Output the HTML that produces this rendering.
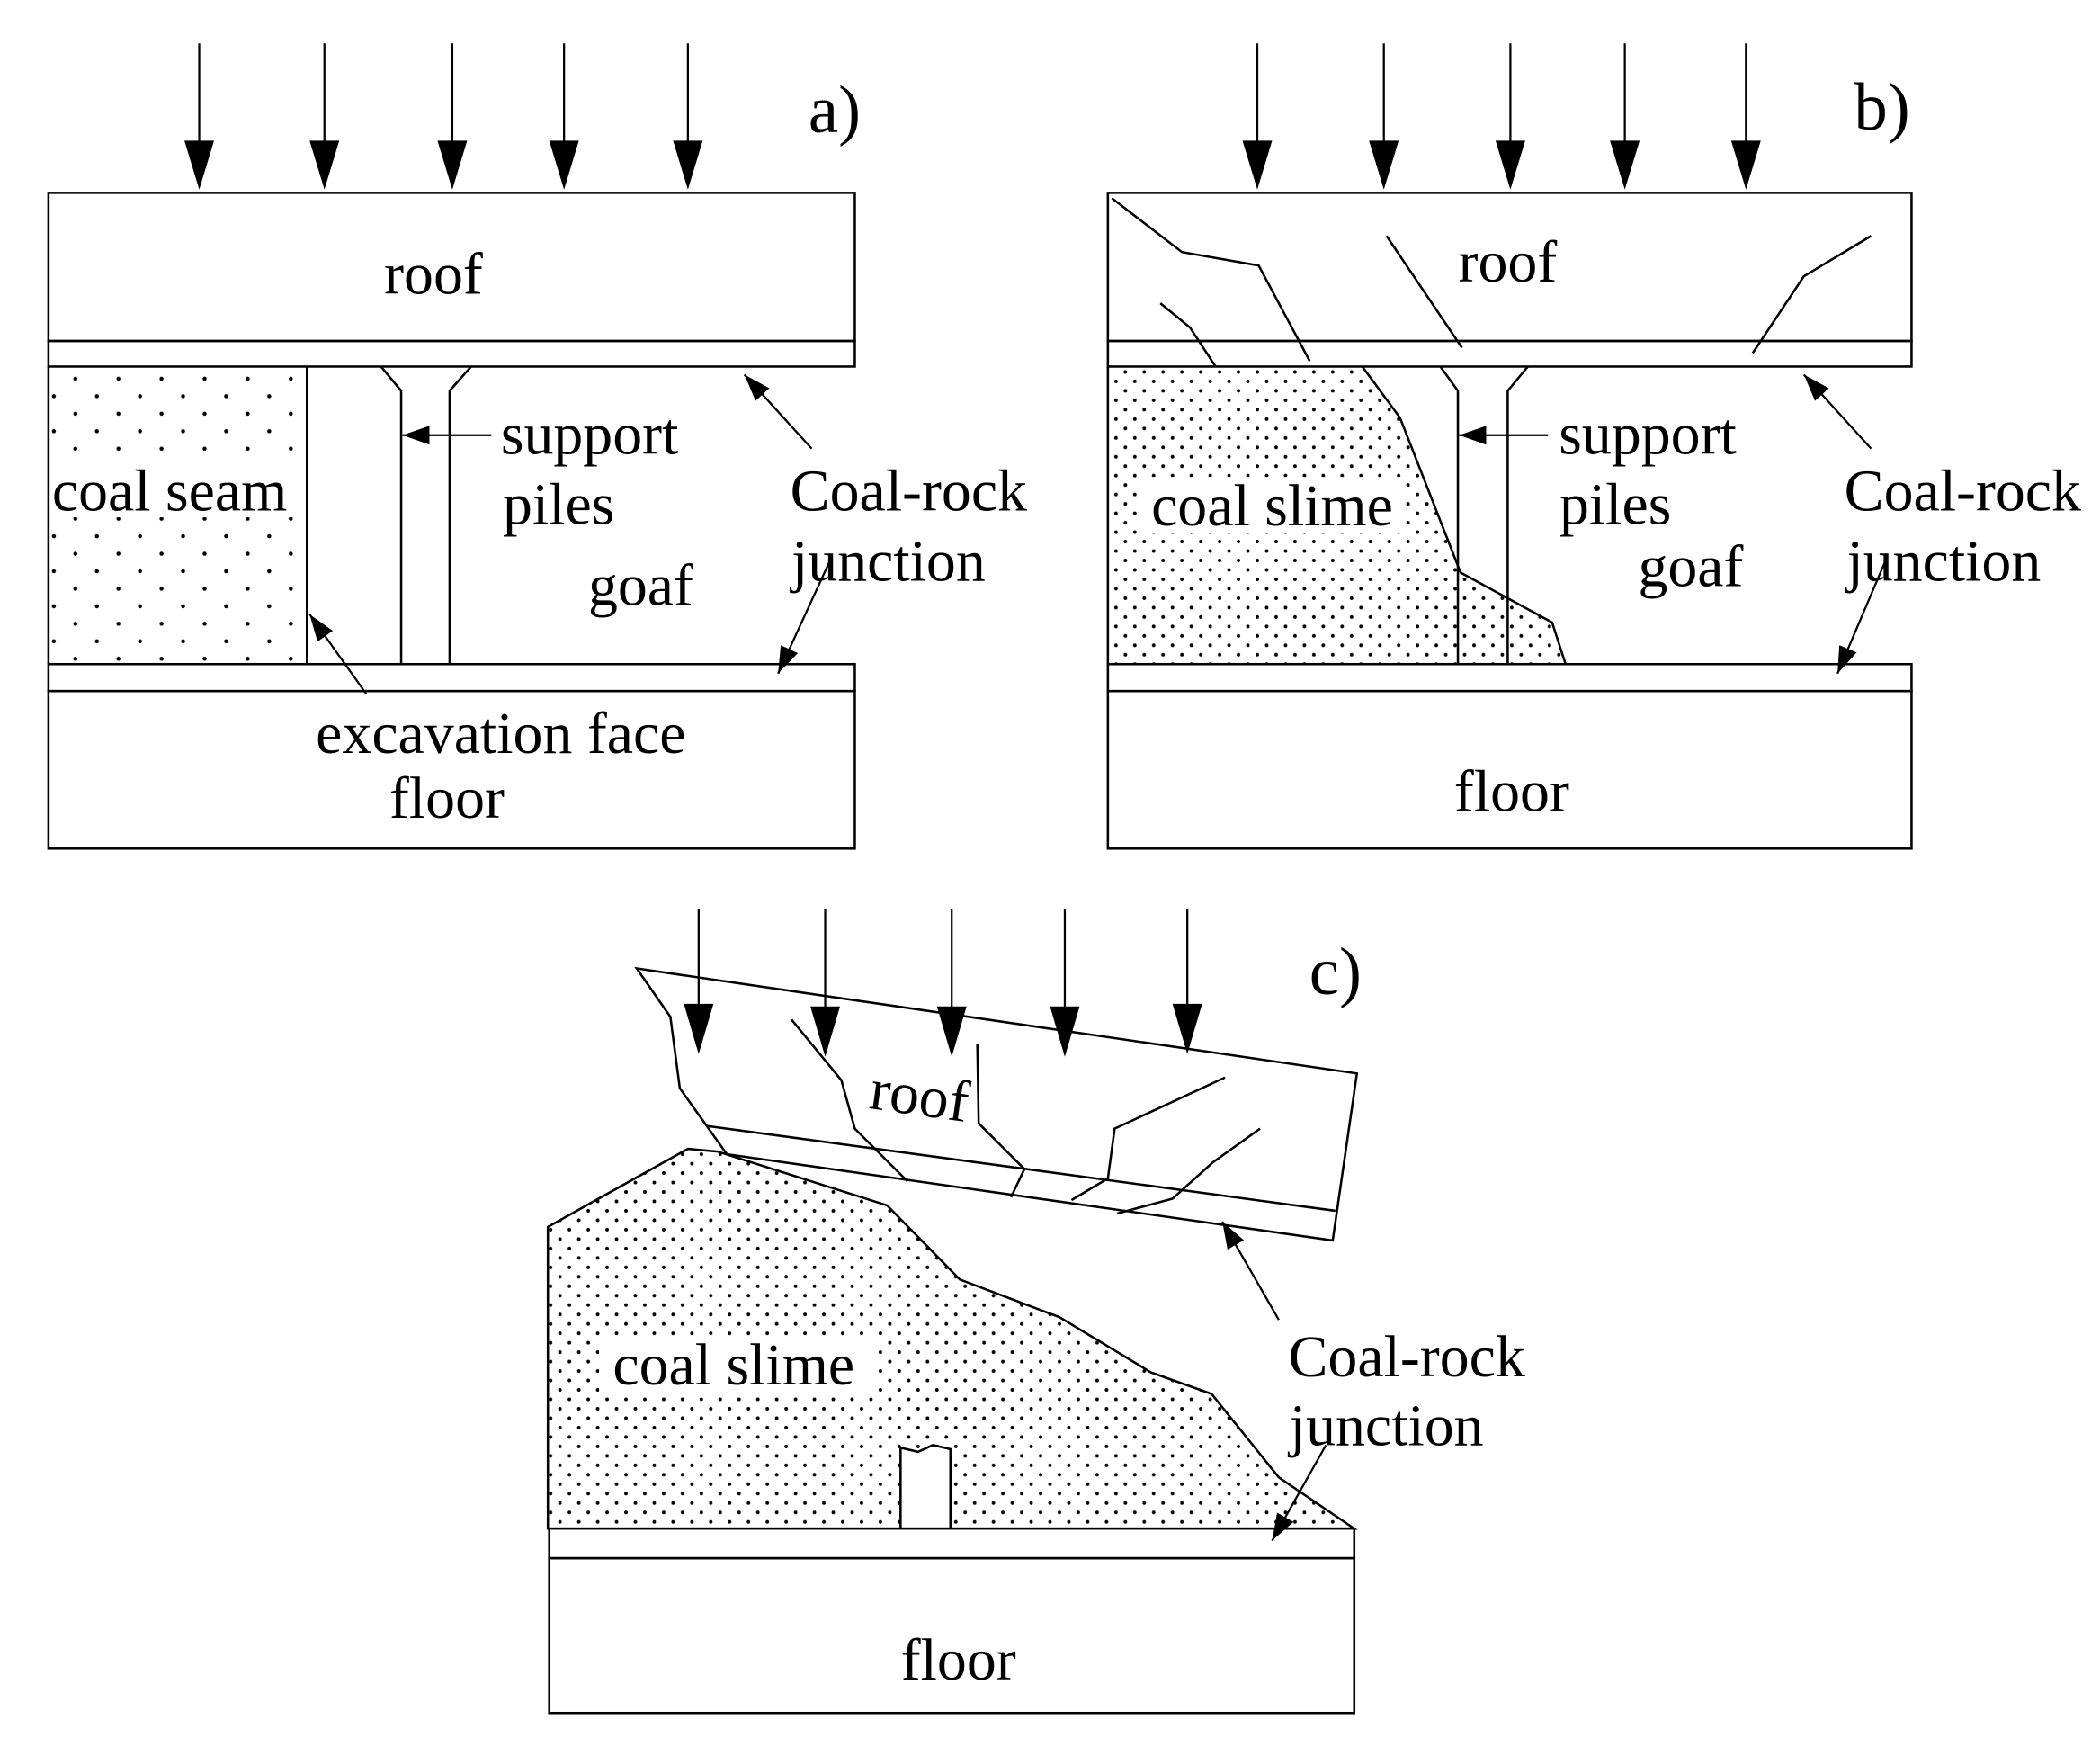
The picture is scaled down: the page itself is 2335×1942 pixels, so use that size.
<!DOCTYPE html>
<html><head><meta charset="utf-8"><style>html,body{margin:0;padding:0;background:#fff}svg{display:block}</style></head>
<body>
<svg width="2335" height="1942" viewBox="0 0 1560 1297" xmlns="http://www.w3.org/2000/svg">
<defs>
<pattern id="dA" width="32" height="26" patternUnits="userSpaceOnUse"><circle cx="8" cy="8" r="1.5" fill="#000"/><circle cx="24" cy="21" r="1.5" fill="#000"/></pattern>
<pattern id="dB" width="14" height="14" patternUnits="userSpaceOnUse"><circle cx="3" cy="3" r="1.3" fill="#000"/><circle cx="10" cy="10" r="1.3" fill="#000"/></pattern>
<marker id="ah" markerWidth="20" markerHeight="14" refX="20" refY="7" orient="auto" markerUnits="userSpaceOnUse" viewBox="0 0 20 14"><path d="M0,0L20,7L0,14z" fill="#000"/></marker>
</defs>
<g fill="none" stroke="#000" stroke-width="1.7">
<!-- Panel a -->
<rect x="36" y="272" width="192" height="221" fill="url(#dA)" stroke="none"/>
<rect x="36" y="143" width="599" height="110" fill="#fff"/>
<rect x="36" y="253" width="599" height="19"/>
<rect x="36" y="493" width="599" height="20"/>
<rect x="36" y="513" width="599" height="117"/>
<line x1="228" y1="272" x2="228" y2="493"/>
<line x1="36" y1="272" x2="36" y2="493"/>
<path d="M283,272 L298,290 L298,493 M350,272 L334,290 L334,493"/>
<!-- Panel b -->
<path d="M823,272 L1012,272 L1040,310 L1085,425 L1153,462 L1163,493 L823,493Z" fill="url(#dB)" stroke="none"/>
<path d="M1012,272 L1040,310 L1085,425 L1153,462 L1163,493"/>
<rect x="823" y="143" width="597" height="110"/>
<rect x="823" y="253" width="597" height="19"/>
<rect x="823" y="493" width="597" height="20"/>
<rect x="823" y="513" width="597" height="117"/>
<line x1="823" y1="272" x2="823" y2="493"/>
<path d="M1070,272 L1083,290 L1083,493 M1135,272 L1120,290 L1120,493"/>
<path d="M826,147 L878,187 L935,197 L973,268 M862,225 L884,243 L903,272 M1030,175 L1086,258 M1390,175 L1340,205 L1302,262"/>
<!-- Panel c -->
<path d="M407,911 L511,853 L533,855 L659,895 L713,950 L787,978 L855,1019 L900,1035 L950,1097 L1006,1135 L407,1135Z" fill="url(#dB)"/>
<path d="M669,1135 L669,1075 L682,1078 L693,1073 L706,1076 L706,1135Z" fill="#fff"/>
<path d="M473,719 L1008,797 L990,921 L540,857 L505,808 L498,755Z"/>
<line x1="525" y1="836" x2="992" y2="899"/>
<path d="M588,757 L625,802 L635,838 L674,877 M726,775 L727,834 L761,868 L751,889 M910,800 L828,838 L823,875 L796,891 M936,838 L901,863 L871,890 L830,901"/>
<rect x="408" y="1135" width="598" height="22" fill="#fff"/>
<rect x="408" y="1157" width="598" height="115"/>
</g>
<!-- load arrows -->
<g stroke="#000" stroke-width="1.5" fill="#000">
<line x1="148" y1="32" x2="148" y2="110"/><path d="M138,105L158,105L148,138Z"/>
<line x1="241" y1="32" x2="241" y2="110"/><path d="M231,105L251,105L241,138Z"/>
<line x1="336" y1="32" x2="336" y2="110"/><path d="M326,105L346,105L336,138Z"/>
<line x1="419" y1="32" x2="419" y2="110"/><path d="M409,105L429,105L419,138Z"/>
<line x1="511" y1="32" x2="511" y2="110"/><path d="M501,105L521,105L511,138Z"/>
<line x1="934" y1="32" x2="934" y2="110"/><path d="M924,105L944,105L934,138Z"/>
<line x1="1028" y1="32" x2="1028" y2="110"/><path d="M1018,105L1038,105L1028,138Z"/>
<line x1="1122" y1="32" x2="1122" y2="110"/><path d="M1112,105L1132,105L1122,138Z"/>
<line x1="1207" y1="32" x2="1207" y2="110"/><path d="M1197,105L1217,105L1207,138Z"/>
<line x1="1297" y1="32" x2="1297" y2="110"/><path d="M1287,105L1307,105L1297,138Z"/>
<line x1="519" y1="675" x2="519" y2="750"/><path d="M509,746L529,746L519,780Z"/>
<line x1="613" y1="675" x2="613" y2="752"/><path d="M603,748L623,748L613,782Z"/>
<line x1="707" y1="675" x2="707" y2="752"/><path d="M697,748L717,748L707,782Z"/>
<line x1="791" y1="675" x2="791" y2="752"/><path d="M781,748L801,748L791,782Z"/>
<line x1="882" y1="675" x2="882" y2="750"/><path d="M872,746L892,746L882,780Z"/>
</g>
<!-- label arrows -->
<g stroke="#000" stroke-width="1.5" fill="none" marker-end="url(#ah)">
<line x1="365" y1="323" x2="299" y2="323"/>
<line x1="603" y1="333" x2="553" y2="278"/>
<line x1="618" y1="413" x2="578" y2="500"/>
<line x1="272" y1="515" x2="230" y2="456"/>
<line x1="1150" y1="323" x2="1084" y2="323"/>
<line x1="1390" y1="333" x2="1340" y2="278"/>
<line x1="1402" y1="413" x2="1365" y2="500"/>
<line x1="950" y1="980" x2="908" y2="907"/>
<line x1="985" y1="1073" x2="945" y2="1144"/>
</g>
<g font-family="Liberation Serif, serif" font-size="44" fill="#000" text-anchor="middle">
<text x="620" y="98" font-size="50">a)</text>
<text x="1398" y="96" font-size="50">b)</text>
<text x="992" y="738" font-size="50">c)</text>
<text x="322" y="218">roof</text>
<rect x="38" y="342" width="180" height="42" fill="#fff"/>
<text x="126" y="379">coal seam</text>
<text x="438" y="337">support</text>
<text x="415" y="389">piles</text>
<text x="476" y="449">goaf</text>
<text x="675" y="379">Coal-rock</text>
<text x="660" y="431">junction</text>
<text x="372" y="559">excavation face</text>
<text x="332" y="607">floor</text>
<text x="1120" y="209">roof</text>
<rect x="846" y="354" width="198" height="42" fill="#fff"/>
<text x="945" y="390">coal slime</text>
<text x="1224" y="337">support</text>
<text x="1200" y="389">piles</text>
<text x="1256" y="435">goaf</text>
<text x="1458" y="379">Coal-rock</text>
<text x="1444" y="431">junction</text>
<text x="1123" y="602">floor</text>
<text x="683" y="828" transform="rotate(8 683 815)">roof</text>
<rect x="445" y="993" width="204" height="42" fill="#fff"/>
<text x="545" y="1028">coal slime</text>
<text x="1045" y="1022">Coal-rock</text>
<text x="1030" y="1073">junction</text>
<text x="712" y="1247">floor</text>
</g>
</svg>
</body></html>
